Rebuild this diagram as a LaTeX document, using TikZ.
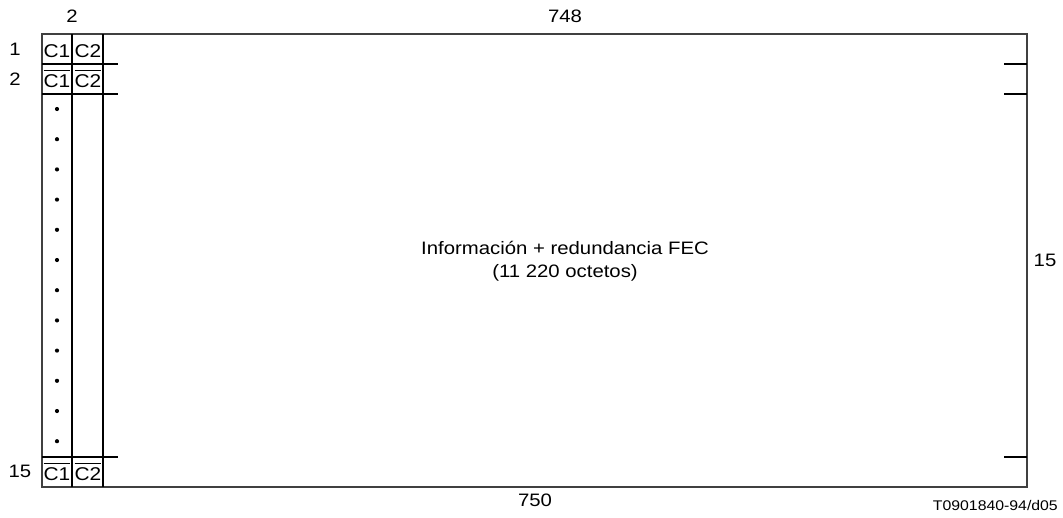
\documentclass[tikz,border=0pt]{standalone}
\usepackage{fontspec}
\setmainfont{Liberation Sans}[FakeStretch=1.13]
\newcommand\ovltext[1]{\vbox{\hrule height 0.9pt\kern 3.4pt\hbox{#1}}}
\begin{document}
\begin{tikzpicture}[x=1pt,y=-1pt,
  frame/.style={line width=1.1pt},
  lbl/.style={font=\fontsize{18}{20}\selectfont, inner sep=0pt},
  cell/.style={font=\fontsize{18.5}{20}\selectfont, inner sep=0pt, anchor=base},
  dotmark/.style={circle, fill=black, inner sep=0pt, minimum size=4.2pt}]
\useasboundingbox (0,0) rectangle (1063,517);
% outer frame
\draw[frame, draw=black!75] (42,34) rectangle (1027,487);
% column lines
\draw[frame] (72,34) -- (72,487);
\draw[frame] (103,34) -- (103,487);
% row lines (left)
\draw[frame] (42,64) -- (118,64);
\draw[frame] (42,94) -- (118,94);
\draw[frame] (42,457) -- (118,457);
% right ticks
\draw[frame] (1004,64) -- (1027,64);
\draw[frame] (1004,94) -- (1027,94);
\draw[frame] (1004,457) -- (1027,457);
% cell texts
\node[cell] (a1) at (57,57) {C1};
\node[cell] (b1) at (88,57) {C2};
\node[cell] (a2) at (57,87.5) {\ovltext{C1}};
\node[cell] (b2) at (88,87.5) {\ovltext{C2}};
\node[cell] (a15) at (57,480.5) {\ovltext{C1}};
\node[cell] (b15) at (88,480.5) {\ovltext{C2}};
% dots
\foreach \i in {0,...,11} {
  \node[dotmark] (d\i) at (57,{109+\i*30.2}) {};
}
% labels
\node[lbl] (t2) at (72,16) {2};
\node[lbl] (t748) at (565,16) {748};
\node[lbl] (r1) at (15,49.5) {1};
\node[lbl] (r2) at (15,79.5) {2};
\node[lbl] (r15) at (20,471) {15};
\node[lbl] (s15) at (1045,260) {15};
\node[lbl] (b750) at (535,500) {750};
\node[lbl, align=center] (main) at (565,261) {Información + redundancia FEC\\[3pt](11 220 octetos)};
\node[font=\fontsize{14}{16}\selectfont, inner sep=0pt, anchor=east] (ref) at (1058,505) {T0901840-94/d05};
\end{tikzpicture}
\end{document}
